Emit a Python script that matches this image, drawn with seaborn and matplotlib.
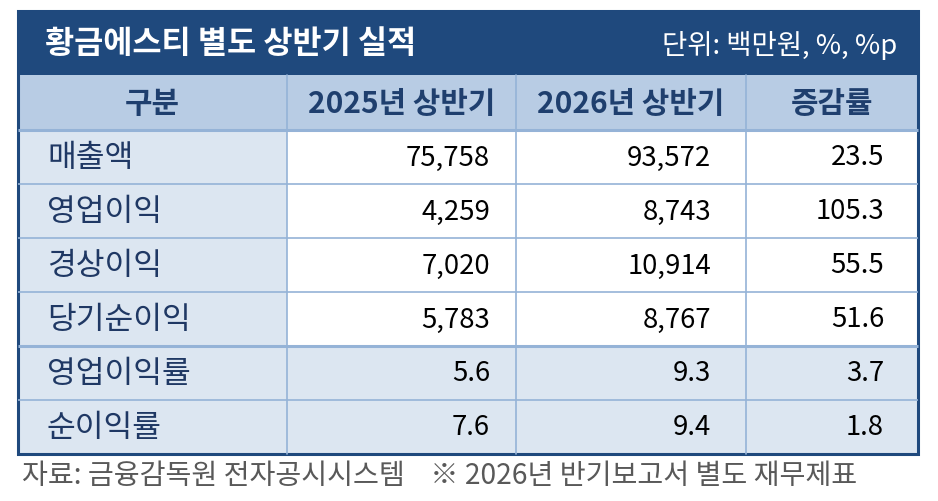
import numpy as np
import seaborn as sns
import matplotlib.pyplot as plt
from matplotlib.colors import ListedColormap

sns.set_theme(style="white")
plt.rcParams['font.family'] = ['Noto Sans CJK KR', 'DejaVu Sans']

# table content
title = '황금에스티 별도 상반기 실적'
unit_note = '단위: 백만원, %, %p'
columns = ['구분', '2025년 상반기', '2026년 상반기', '증감률']
categories = ['매출액', '영업이익', '경상이익', '당기순이익', '영업이익률', '순이익률']
h1_2025 = [75758, 4259, 7020, 5783, 5.6, 7.6]
h1_2026 = [93572, 8743, 10914, 8767, 9.3, 9.4]
change = [23.5, 105.3, 55.5, 51.6, 3.7, 1.8]
is_ratio = [False, False, False, False, True, True]
source = '자료: 금융감독원 전자공시시스템    ※ 2026년 반기보고서 별도 재무제표'

# layout (pixels)
x_edges = np.array([18, 287, 516, 746, 918])
y_edges = np.array([76, 131, 185, 239, 293, 347, 401, 455])
title_top = 12

navy = '#1F497D'
header_bg = '#B8CCE4'
light_bg = '#DCE6F1'
grid_c = '#95B3D7'

fig = plt.figure(figsize=(9.38, 5.02), dpi=100)
ax = fig.add_axes([0, 0, 1, 1])
ax.set_xlim(0, 938)
ax.set_ylim(502, 0)
ax.axis('off')

# fill codes: 0 white, 1 light, 2 header
n_rows = len(categories)
codes = np.zeros((n_rows + 1, 4))
codes[0, :] = 2
codes[1:, 0] = 1
for i, r in enumerate(is_ratio):
    if r:
        codes[i + 1, :] = 1
cmap = ListedColormap(['white', light_bg, header_bg])
ax.pcolormesh(x_edges, y_edges, codes, cmap=cmap, vmin=-0.5, vmax=2.5)

# grid lines
for y in y_edges[1:-1]:
    lw = 2.2 if y in (131, 347) else 1.2
    ax.plot([x_edges[0], x_edges[-1]], [y, y], color=grid_c, lw=lw, solid_capstyle='butt')
for x in x_edges[1:-1]:
    ax.plot([x, x], [y_edges[0], y_edges[-1]], color=grid_c, lw=1.2)

# title bar
ax.add_patch(plt.Rectangle((x_edges[0], title_top), x_edges[-1] - x_edges[0],
                           y_edges[0] - title_top, color=navy, lw=0))
ty = (title_top + y_edges[0]) / 2
ax.text(45, ty, title, color='white', fontsize=22.8, fontweight='bold', va='center', ha='left')
ax.text(897, ty + 1, unit_note, color='white', fontsize=19.8, va='center', ha='right')

# outer border
ax.add_patch(plt.Rectangle((x_edges[0], title_top), x_edges[-1] - x_edges[0],
                           y_edges[-1] - title_top, fill=False, ec=navy, lw=2.2))

# header text
hy = (y_edges[0] + y_edges[1]) / 2
for j, col in enumerate(columns):
    ax.text((x_edges[j] + x_edges[j + 1]) / 2, hy, col, color='#1F3F6E',
            fontsize=21.5, fontweight='bold', ha='center', va='center')

# body
right_x = [490, 711, 884]
for i, cat in enumerate(categories):
    cy = (y_edges[i + 1] + y_edges[i + 2]) / 2
    ax.text(47, cy, cat, color='#1F3864', fontsize=22.5, ha='left', va='center')
    vals = [h1_2025[i], h1_2026[i], change[i]]
    for k, v in enumerate(vals):
        if k < 2 and not is_ratio[i]:
            s = f'{v:,.0f}'
        else:
            s = f'{v:.1f}'
        ax.text(right_x[k], cy, s, color='black', fontsize=19.8, ha='right', va='center')

ax.text(22, 476, source, color='#595959', fontsize=20.3, ha='left', va='center')

fig.savefig('out.png', dpi=100)
